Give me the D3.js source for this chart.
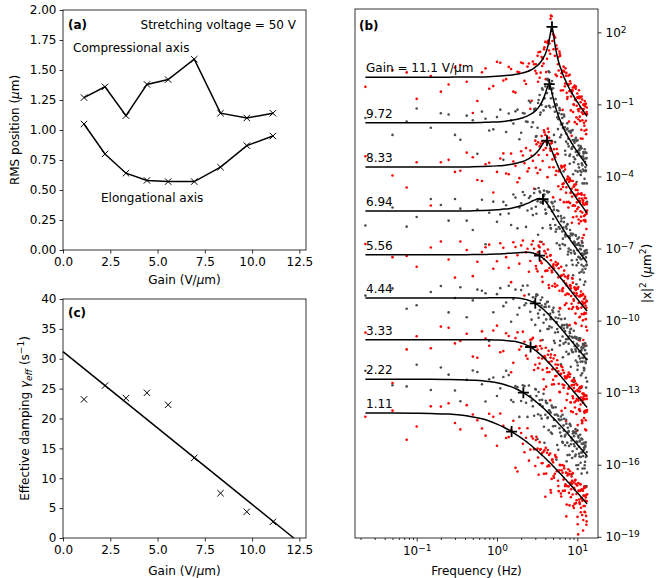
<!DOCTYPE html>
<html>
<head>
<meta charset="utf-8">
<script src="https://cdn.jsdelivr.net/npm/d3@7"></script>
<style>
  body { margin: 0; background: #fff; }
  text { font-family: "DejaVu Sans", sans-serif; }
</style>
</head>
<body>
<div id="chart"></div>
<script>
// ---- data ----
var gains = [1.11, 2.22, 3.33, 4.44, 5.56, 6.94, 8.33, 9.72, 11.1];
var rmsCompressional = [1.27, 1.36, 1.12, 1.38, 1.42, 1.59, 1.14, 1.10, 1.14];
var rmsElongational = [1.05, 0.80, 0.64, 0.58, 0.57, 0.57, 0.69, 0.87, 0.95];
var damping = [23.2, 25.5, 23.4, 24.3, 22.3, 13.4, 7.5, 4.4, 2.7];
var dampingFit = [[0, 31.2], [12.2, 0]];

var gainTicks = [0, 2.5, 5, 7.5, 10, 12.5];
var rmsTicks = [0, 0.25, 0.5, 0.75, 1, 1.25, 1.5, 1.75, 2];
var dampingTicks = [0, 5, 10, 15, 20, 25, 30, 35, 40];
var freqTicks = [0.1, 1, 10];
var psdTicks = [1e2, 1e-1, 1e-4, 1e-7, 1e-10, 1e-13, 1e-16, 1e-19];

// spectra, top (11.1 V/um) to bottom (1.11 V/um)
var gainLabels = ["Gain = 11.1 V/\u03bcm", "9.72", "8.33", "6.94", "5.56", "4.44", "3.33", "2.22", "1.11"];
var freqs = [0.023, 0.05, 0.1, 0.15, 0.25, 0.35, 0.5, 0.65, 0.8, 1.0, 1.2, 1.4, 1.6, 1.8, 2.0, 2.2, 2.4, 2.6, 2.8, 3.0,
    3.2, 3.4, 3.6, 3.8, 4.0, 4.2, 4.4, 4.6, 4.8, 5.0, 5.25, 5.5, 5.75, 6.0, 6.25, 6.5, 6.75, 7.0, 7.25, 7.5,
    7.75, 8.0, 8.25, 8.5, 8.75, 9.0, 9.25, 9.5, 9.75, 10.0, 10.25, 10.5, 10.75, 11.0, 11.25, 11.5, 11.75, 12.0, 12.25, 12.5,
    12.75, 13.0, 13.25];
var freqs2 = [0.075, 0.2, 0.3, 0.42, 0.57, 0.72, 0.9, 1.1, 1.3, 1.5, 1.7, 1.9, 2.1, 2.3, 2.5, 2.7, 2.9, 3.1, 3.3, 3.5,
    3.7, 3.9, 4.1, 4.3, 4.5, 4.7, 4.9, 5.125, 5.375, 5.625, 5.875, 6.125, 6.375, 6.625, 6.875, 7.125, 7.375, 7.625, 7.875, 8.125,
    8.375, 8.625, 8.875, 9.125, 9.375, 9.625, 9.875, 10.125, 10.375, 10.625, 10.875, 11.125, 11.375, 11.625, 11.875, 12.125, 12.375, 12.625, 12.875, 13.125];
var freqs3 = [3.05, 3.25, 3.45, 3.65, 3.85, 4.05, 4.25, 4.45, 4.65, 4.85, 5.06, 5.31, 5.56, 5.81, 6.06, 6.31, 6.56, 6.81, 7.06, 7.31,
    7.56, 7.81, 8.06, 8.31, 8.56, 8.81, 9.06, 9.31, 9.56, 9.81, 10.06, 10.31, 10.56, 10.81, 11.06, 11.31, 11.56, 11.81, 12.06, 12.31,
    12.56, 12.81, 13.06];

// log10 of the fitted |x|^2 at freqs
var fitLog = [
  [0.13,0.13,0.13,0.13,0.13,0.14,0.14,0.14,0.15,0.17,0.19,0.21,0.23,0.26,0.29,0.33,0.37,0.42,0.48,0.55,0.62,0.71,0.82,0.95,1.10,1.30,1.56,1.91,2.22,2.02,1.52,1.15,0.87,0.65,0.48,0.31,0.17,0.05,-0.06,-0.17,-0.26,-0.35,-0.43,-0.51,-0.58,-0.65,-0.72,-0.78,-0.84,-0.90,-0.95,-1.01,-1.06,-1.11,-1.16,-1.20,-1.25,-1.29,-1.34,-1.38,-1.42,-1.46,-1.50],
  [-1.77,-1.77,-1.77,-1.77,-1.77,-1.77,-1.76,-1.75,-1.74,-1.73,-1.71,-1.68,-1.65,-1.62,-1.58,-1.53,-1.48,-1.42,-1.35,-1.27,-1.17,-1.06,-0.92,-0.75,-0.55,-0.33,-0.17,-0.23,-0.47,-0.73,-1.01,-1.24,-1.43,-1.60,-1.74,-1.87,-1.99,-2.10,-2.20,-2.29,-2.38,-2.45,-2.53,-2.61,-2.67,-2.74,-2.80,-2.86,-2.92,-2.97,-3.03,-3.08,-3.13,-3.18,-3.22,-3.27,-3.31,-3.35,-3.39,-3.44,-3.48,-3.52,-3.56],
  [-3.61,-3.61,-3.61,-3.61,-3.61,-3.61,-3.60,-3.59,-3.58,-3.56,-3.54,-3.51,-3.48,-3.44,-3.40,-3.35,-3.29,-3.22,-3.15,-3.06,-2.96,-2.85,-2.72,-2.60,-2.52,-2.51,-2.60,-2.74,-2.91,-3.07,-3.26,-3.42,-3.57,-3.71,-3.83,-3.94,-4.04,-4.14,-4.23,-4.31,-4.39,-4.47,-4.54,-4.61,-4.67,-4.73,-4.79,-4.85,-4.90,-4.96,-5.01,-5.06,-5.11,-5.15,-5.20,-5.24,-5.28,-5.33,-5.37,-5.41,-5.45,-5.49,-5.52],
  [-5.44,-5.44,-5.44,-5.44,-5.44,-5.44,-5.43,-5.42,-5.41,-5.39,-5.36,-5.34,-5.30,-5.26,-5.22,-5.17,-5.12,-5.07,-5.01,-4.97,-4.93,-4.92,-4.93,-4.97,-5.03,-5.12,-5.22,-5.32,-5.42,-5.52,-5.64,-5.75,-5.86,-5.96,-6.05,-6.14,-6.23,-6.31,-6.39,-6.46,-6.53,-6.59,-6.66,-6.72,-6.78,-6.83,-6.89,-6.94,-6.99,-7.04,-7.09,-7.14,-7.18,-7.23,-7.27,-7.31,-7.35,-7.39,-7.43,-7.47,-7.51,-7.55,-7.58],
  [-7.26,-7.26,-7.26,-7.26,-7.26,-7.26,-7.25,-7.25,-7.24,-7.23,-7.22,-7.20,-7.19,-7.18,-7.17,-7.16,-7.16,-7.17,-7.19,-7.22,-7.25,-7.30,-7.36,-7.42,-7.49,-7.55,-7.62,-7.70,-7.77,-7.84,-7.92,-8.00,-8.08,-8.16,-8.24,-8.31,-8.38,-8.45,-8.51,-8.57,-8.63,-8.69,-8.75,-8.80,-8.86,-8.91,-8.96,-9.01,-9.05,-9.10,-9.14,-9.19,-9.23,-9.27,-9.31,-9.35,-9.39,-9.43,-9.46,-9.50,-9.54,-9.57,-9.61],
  [-9.06,-9.06,-9.06,-9.06,-9.06,-9.06,-9.06,-9.06,-9.05,-9.05,-9.05,-9.05,-9.05,-9.06,-9.08,-9.11,-9.14,-9.18,-9.23,-9.28,-9.34,-9.41,-9.47,-9.54,-9.61,-9.68,-9.75,-9.82,-9.89,-9.95,-10.03,-10.11,-10.18,-10.26,-10.32,-10.39,-10.46,-10.52,-10.58,-10.64,-10.70,-10.75,-10.81,-10.86,-10.91,-10.96,-11.01,-11.05,-11.10,-11.14,-11.19,-11.23,-11.27,-11.31,-11.35,-11.39,-11.42,-11.46,-11.50,-11.53,-11.57,-11.60,-11.64],
  [-10.80,-10.80,-10.80,-10.80,-10.80,-10.80,-10.80,-10.80,-10.80,-10.81,-10.82,-10.84,-10.86,-10.89,-10.93,-10.98,-11.04,-11.10,-11.17,-11.24,-11.31,-11.39,-11.46,-11.54,-11.61,-11.68,-11.76,-11.82,-11.89,-11.96,-12.04,-12.11,-12.19,-12.26,-12.32,-12.39,-12.45,-12.52,-12.58,-12.64,-12.69,-12.75,-12.80,-12.85,-12.90,-12.95,-13.00,-13.04,-13.09,-13.13,-13.17,-13.21,-13.25,-13.29,-13.33,-13.37,-13.41,-13.44,-13.48,-13.52,-13.55,-13.59,-13.62],
  [-12.44,-12.44,-12.44,-12.44,-12.45,-12.46,-12.48,-12.50,-12.54,-12.59,-12.65,-12.72,-12.79,-12.87,-12.95,-13.03,-13.11,-13.19,-13.27,-13.35,-13.43,-13.51,-13.58,-13.65,-13.72,-13.79,-13.86,-13.92,-13.99,-14.05,-14.12,-14.19,-14.26,-14.33,-14.39,-14.45,-14.51,-14.57,-14.63,-14.68,-14.74,-14.79,-14.84,-14.89,-14.94,-14.98,-15.03,-15.07,-15.12,-15.16,-15.20,-15.24,-15.28,-15.32,-15.36,-15.39,-15.43,-15.47,-15.50,-15.53,-15.57,-15.60,-15.63],
  [-13.85,-13.85,-13.86,-13.87,-13.89,-13.93,-14.01,-14.09,-14.18,-14.31,-14.43,-14.55,-14.67,-14.78,-14.88,-14.98,-15.08,-15.17,-15.26,-15.35,-15.43,-15.51,-15.59,-15.66,-15.73,-15.80,-15.87,-15.93,-15.99,-16.05,-16.13,-16.20,-16.27,-16.33,-16.40,-16.46,-16.52,-16.58,-16.63,-16.69,-16.74,-16.79,-16.84,-16.89,-16.94,-16.99,-17.03,-17.08,-17.12,-17.16,-17.20,-17.24,-17.28,-17.32,-17.36,-17.39,-17.43,-17.47,-17.50,-17.53,-17.56,-17.60,-17.63]
];

// log10 of the measured |x|^2 at freqs
var psdLog = [
  [-0.27,0.43,-0.77,0.18,-0.17,0.64,-1.36,0.34,-0.35,0.77,-0.01,0.56,-0.47,0.36,0.74,-0.02,0.57,-1.18,0.78,0.40,1.02,0.11,0.97,0.70,1.60,0.90,1.66,1.11,2.67,1.92,1.02,1.45,0.67,1.20,-0.42,0.41,0.57,-0.25,0.19,-0.77,0.19,-0.45,-0.13,-2.31,-0.43,-1.00,-0.22,-0.83,-1.54,-0.55,-1.20,-0.41,-1.51,-0.91,-2.06,-0.80,-1.40,-1.19,-1.89,-1.08,-0.97,-2.06,-1.40],
  [-1.57,-2.27,-1.17,-1.97,-1.42,-2.47,-1.66,-1.30,-2.09,-1.53,-3.31,-1.38,-1.80,-1.22,-2.18,-1.38,-1.73,-0.92,-1.75,-1.17,-1.97,-0.61,-1.02,-1.25,-0.25,-0.53,0.38,-1.13,-0.37,-0.33,-1.31,-0.99,-2.03,-1.15,-1.84,-1.57,-3.79,-1.95,-2.55,-1.79,-2.43,-3.15,-2.18,-2.86,-2.07,-3.19,-2.60,-3.76,-2.52,-3.12,-2.93,-3.63,-2.83,-2.73,-3.82,-3.17,-3.71,-3.05,-4.29,-3.39,-3.78,-3.02,-5.06],
  [-3.16,-3.96,-3.41,-5.21,-3.31,-3.76,-3.20,-4.19,-3.43,-3.81,-3.04,-3.91,-3.38,-4.24,-2.95,-3.45,-3.79,-2.92,-3.35,-2.51,-3.86,-2.75,-2.32,-2.90,-2.27,-3.11,-2.15,-2.84,-2.61,-4.87,-3.11,-3.77,-3.07,-3.76,-4.53,-3.59,-4.29,-3.54,-4.68,-4.11,-5.29,-4.07,-4.69,-4.51,-5.22,-4.43,-4.34,-5.45,-4.80,-5.36,-4.71,-5.96,-5.06,-5.45,-4.70,-6.74,-5.08,-5.83,-4.77,-5.61,-5.10,-6.19,-5.42],
  [-6.04,-5.29,-5.69,-4.94,-5.84,-5.34,-6.23,-4.97,-5.51,-5.89,-5.06,-5.54,-4.75,-6.16,-5.12,-4.77,-5.42,-4.82,-5.61,-4.52,-5.03,-4.62,-6.73,-4.82,-5.38,-4.62,-5.27,-6.02,-5.07,-5.77,-5.04,-6.20,-5.66,-6.86,-5.65,-6.29,-6.13,-6.86,-6.09,-6.01,-7.13,-6.49,-7.06,-6.42,-7.68,-6.78,-7.19,-6.44,-8.49,-6.84,-7.59,-6.54,-7.38,-6.88,-7.97,-7.21,-6.90,-7.74,-7.23,-9.07,-7.21,-7.70,-7.18],
  [-6.81,-7.36,-7.76,-6.96,-7.46,-6.71,-8.15,-7.15,-6.84,-7.53,-6.97,-7.80,-6.74,-7.28,-6.87,-8.96,-7.01,-7.52,-6.69,-7.27,-7.95,-6.95,-7.61,-6.82,-7.94,-7.35,-8.52,-7.30,-7.92,-7.74,-8.47,-7.70,-7.63,-8.76,-8.14,-8.71,-8.08,-9.35,-8.46,-8.87,-8.13,-10.19,-8.55,-9.30,-8.26,-9.11,-8.61,-9.71,-8.95,-8.65,-9.49,-8.99,-10.83,-8.97,-9.46,-8.95,-9.99,-9.28,-9.71,-9.00,-9.94,-9.47,-10.41],
  [-8.96,-8.66,-9.36,-8.81,-9.66,-8.61,-9.16,-8.76,-10.85,-8.90,-9.40,-8.55,-9.10,-9.76,-8.73,-9.36,-8.54,-9.63,-9.03,-10.18,-8.94,-9.56,-9.37,-10.09,-9.31,-9.23,-10.35,-9.72,-10.29,-9.65,-10.93,-10.06,-10.48,-9.76,-11.82,-10.19,-10.96,-9.92,-10.78,-10.29,-11.40,-10.65,-10.36,-11.21,-10.71,-12.56,-10.71,-11.20,-10.70,-11.74,-11.04,-11.48,-10.77,-11.71,-11.25,-12.19,-10.97,-11.56,-12.00,-11.23,-11.77,-11.05,-12.54],
  [-10.50,-12.60,-10.65,-11.15,-10.30,-10.85,-11.50,-10.45,-11.05,-10.21,-11.27,-10.64,-11.76,-10.49,-11.08,-10.88,-11.59,-10.80,-10.72,-11.84,-11.21,-11.79,-11.16,-12.44,-11.56,-11.98,-11.26,-13.32,-11.69,-12.46,-11.44,-12.31,-11.84,-12.96,-12.22,-11.94,-12.80,-12.32,-14.18,-12.34,-12.84,-12.35,-13.40,-12.70,-13.15,-12.45,-13.40,-12.94,-13.89,-12.68,-13.27,-13.71,-12.95,-13.49,-12.78,-14.27,-13.31,-13.04,-13.78,-13.27,-14.15,-13.14,-13.72],
  [-12.09,-12.69,-11.84,-12.89,-12.25,-13.36,-12.08,-12.65,-12.44,-13.14,-12.35,-12.27,-13.39,-12.77,-13.35,-12.73,-14.01,-13.14,-13.57,-12.85,-14.93,-13.31,-14.08,-13.05,-13.92,-13.44,-14.56,-13.82,-13.54,-14.40,-13.92,-15.79,-13.96,-14.48,-13.99,-15.05,-14.36,-14.82,-14.13,-15.08,-14.64,-15.59,-14.39,-14.99,-15.44,-14.68,-15.23,-14.52,-16.02,-15.06,-14.80,-15.54,-15.03,-15.92,-14.91,-15.49,-15.13,-17.27,-15.35,-15.88,-15.07,-15.65,-16.33],
  [-14.00,-13.75,-14.41,-13.57,-13.44,-14.53,-13.91,-14.49,-13.88,-15.21,-14.38,-14.85,-14.17,-16.28,-14.68,-15.48,-14.48,-15.37,-14.91,-16.05,-15.33,-15.06,-15.94,-15.46,-17.33,-15.50,-16.02,-15.53,-16.59,-15.90,-16.38,-15.70,-16.67,-16.23,-17.20,-16.01,-16.62,-17.08,-16.33,-16.89,-16.19,-17.69,-16.74,-16.49,-17.24,-16.74,-17.63,-16.63,-17.22,-16.86,-18.90,-17.09,-17.63,-16.82,-17.41,-18.09,-17.08,-17.72,-16.90,-17.98,-17.36,-18.50,-17.23]
];

// log10 of the measured |x|^2 at freqs2
var psdLog2 = [
  [0.33,-0.47,0.53,-0.06,-0.86,0.50,-0.24,0.73,0.05,0.47,-0.51,0.33,0.71,-0.15,0.70,-0.85,0.67,0.29,1.17,0.32,0.89,1.38,0.35,1.63,1.53,2.70,1.64,1.87,0.24,1.31,0.41,1.02,0.30,-0.41,0.36,0.50,-0.52,-0.17,-1.71,-0.04,-0.67,-0.40,-1.32,-0.29,-0.80,-0.26,-1.82,-0.73,-1.28,-0.74,-1.69,-0.69,-1.33,-2.43,-1.02,-1.77,-0.86,-1.40,-2.24,-1.13],
  [-1.72,-1.37,-2.27,-1.47,-3.06,-1.60,-2.04,-1.22,-2.15,-1.67,-1.29,-2.45,-1.36,-1.71,-0.85,-1.94,-1.21,-2.32,-0.82,-1.34,-0.39,-0.75,-1.09,0.00,0.34,-0.75,-0.55,-2.27,-0.78,-1.54,-1.37,-2.37,-1.41,-1.98,-1.50,-3.10,-2.05,-2.64,-2.12,-3.09,-2.12,-2.79,-3.91,-2.52,-3.28,-2.39,-2.95,-3.80,-2.71,-2.91,-3.76,-2.80,-3.45,-4.29,-2.98,-3.77,-2.87,-3.61,-3.25,-4.29],
  [-4.46,-3.41,-3.81,-3.01,-4.15,-3.49,-4.67,-3.25,-3.88,-3.05,-3.56,-4.07,-3.13,-2.82,-3.66,-3.14,-4.51,-2.66,-3.11,-2.64,-3.36,-2.16,-2.57,-2.01,-3.62,-2.63,-3.29,-2.87,-3.94,-3.05,-3.79,-4.97,-3.64,-4.44,-3.59,-4.19,-5.07,-4.00,-4.23,-5.11,-4.18,-4.84,-5.70,-4.41,-5.22,-4.33,-5.08,-4.74,-5.79,-5.04,-4.73,-5.68,-4.92,-6.56,-5.16,-5.65,-4.89,-5.88,-5.47,-5.16],
  [-6.09,-5.19,-4.94,-5.84,-5.38,-6.82,-5.05,-5.58,-5.20,-6.02,-4.88,-5.29,-4.65,-6.10,-4.90,-5.34,-4.69,-5.55,-4.48,-5.08,-6.15,-4.75,-5.53,-4.67,-5.27,-6.17,-5.12,-5.38,-6.30,-5.41,-6.11,-7.01,-5.75,-6.59,-5.72,-6.50,-6.18,-7.25,-6.51,-6.23,-7.19,-6.45,-8.11,-6.71,-7.22,-6.47,-7.47,-7.07,-6.77,-8.01,-7.01,-7.45,-6.69,-7.88,-7.27,-8.51,-7.15,-7.84,-7.08,-7.67],
  [-7.31,-6.71,-8.21,-7.06,-7.55,-6.95,-7.84,-6.78,-7.36,-8.40,-6.94,-7.63,-6.67,-7.16,-7.97,-6.83,-7.01,-7.84,-6.88,-7.53,-8.39,-7.11,-7.92,-7.04,-7.81,-7.49,-8.56,-7.83,-7.56,-8.54,-7.82,-9.50,-8.13,-8.65,-7.92,-8.93,-8.54,-8.25,-9.51,-8.52,-8.98,-8.23,-9.44,-8.84,-10.09,-8.73,-9.43,-8.67,-9.27,-9.86,-9.00,-8.79,-9.73,-9.32,-10.81,-9.10,-9.68,-9.37,-10.26,-9.19],
  [-9.51,-8.56,-9.06,-9.86,-8.71,-8.86,-9.65,-8.65,-9.25,-10.05,-8.71,-9.47,-8.55,-9.28,-8.91,-9.96,-9.21,-8.91,-9.88,-9.14,-10.81,-9.43,-9.95,-9.22,-10.24,-9.86,-9.57,-10.84,-9.87,-10.35,-9.62,-10.84,-10.26,-11.53,-10.19,-10.90,-10.16,-10.77,-11.38,-10.53,-10.34,-11.29,-10.89,-12.39,-10.68,-11.28,-10.97,-11.87,-10.81,-11.30,-10.74,-12.28,-11.17,-11.71,-11.14,-12.08,-11.07,-11.70,-12.79,-11.37],
  [-11.20,-10.25,-10.95,-10.55,-11.55,-10.75,-10.41,-11.32,-10.53,-12.15,-10.73,-11.21,-10.46,-11.46,-11.07,-10.79,-12.06,-11.08,-11.55,-10.83,-12.05,-11.48,-12.75,-11.42,-12.14,-11.41,-12.03,-12.65,-11.83,-11.65,-12.63,-12.24,-13.76,-12.07,-12.69,-12.40,-13.31,-12.27,-12.77,-12.23,-13.78,-12.68,-13.23,-12.68,-13.62,-12.62,-13.26,-14.35,-12.94,-13.68,-12.77,-13.31,-14.15,-13.04,-13.23,-14.06,-13.10,-13.74,-14.57,-13.26],
  [-12.74,-11.95,-12.91,-12.47,-12.14,-13.37,-12.37,-12.82,-12.09,-13.31,-12.73,-14.01,-12.69,-13.42,-12.70,-13.33,-13.96,-13.14,-12.97,-13.95,-13.57,-15.09,-13.41,-14.03,-13.74,-14.66,-13.62,-14.14,-13.61,-15.18,-14.10,-14.66,-14.12,-15.08,-14.09,-14.75,-15.86,-14.46,-15.22,-14.32,-14.87,-15.72,-14.61,-14.81,-15.65,-14.70,-15.34,-16.18,-14.87,-15.66,-14.75,-15.49,-15.13,-16.16,-15.40,-15.09,-16.02,-15.25,-16.89,-15.47],
  [-14.96,-13.58,-14.26,-13.52,-14.15,-14.79,-14.00,-13.87,-14.89,-14.56,-16.13,-14.48,-15.13,-14.88,-15.83,-14.82,-15.36,-14.84,-16.42,-15.35,-15.93,-15.40,-16.37,-15.39,-16.05,-17.16,-15.77,-16.54,-15.67,-16.24,-17.10,-16.02,-16.23,-17.09,-16.15,-16.81,-17.66,-16.37,-17.17,-16.27,-17.02,-16.67,-17.72,-16.96,-16.66,-17.60,-16.84,-18.48,-17.07,-17.56,-16.80,-17.79,-17.38,-17.06,-18.30,-17.29,-17.72,-16.95,-18.13,-17.52]
];

// log10 of the measured |x|^2 at freqs3
var psdLog3 = [
  [0.67,-0.06,1.19,0.60,1.29,0.05,1.57,1.24,2.56,2.18,1.29,1.78,0.18,0.97,1.11,0.14,-1.23,0.39,-0.13,0.31,-0.69,-0.18,0.23,-1.25,-0.53,-0.30,-1.02,-1.74,-0.35,-1.06,-0.71,-1.62,-0.67,-1.17,-2.42,-0.67,-1.66,-1.21,-1.00,-2.10,-0.99,-1.68,-1.32],
  [-2.35,-0.94,-1.43,-0.33,-0.75,-1.10,0.06,-1.06,-0.13,-0.03,-1.10,-2.57,-1.04,-1.62,-1.24,-2.27,-1.80,-1.42,-2.93,-2.22,-2.01,-2.75,-3.47,-2.10,-2.83,-2.49,-3.41,-2.47,-2.98,-4.23,-2.49,-3.49,-3.04,-2.84,-3.94,-2.83,-3.53,-3.17,-3.26,-4.10,-3.00,-3.74,-3.23],
  [-3.64,-2.58,-3.72,-2.54,-2.08,-2.82,-4.03,-2.39,-2.93,-2.55,-3.62,-3.20,-2.86,-4.41,-3.74,-3.56,-4.32,-5.07,-3.71,-4.45,-4.13,-5.06,-4.14,-4.66,-5.93,-4.19,-5.20,-4.76,-4.56,-5.67,-4.57,-5.28,-4.92,-5.02,-5.86,-4.76,-5.50,-4.99,-6.44,-5.18,-5.82,-4.91,-5.55],
  [-5.26,-6.43,-4.67,-5.09,-4.59,-5.55,-5.05,-4.65,-6.15,-5.45,-5.25,-6.02,-6.78,-5.44,-6.18,-5.87,-6.81,-5.90,-6.43,-7.71,-5.98,-7.00,-6.56,-6.38,-7.49,-6.39,-7.10,-6.75,-6.85,-7.70,-6.60,-7.35,-6.85,-8.29,-7.04,-7.68,-6.77,-7.41,-8.00,-7.09,-8.38,-7.37,-7.06],
  [-7.73,-7.16,-6.72,-8.18,-7.44,-7.21,-7.92,-8.64,-7.27,-7.99,-7.66,-8.59,-7.67,-8.20,-9.48,-7.76,-8.78,-8.35,-8.17,-9.28,-8.19,-8.90,-8.56,-8.66,-9.52,-8.42,-9.17,-8.67,-10.12,-8.86,-9.51,-8.60,-9.25,-9.84,-8.93,-10.22,-9.21,-8.90,-9.74,-10.97,-9.26,-9.70,-9.18],
  [-9.00,-9.71,-10.43,-9.04,-9.76,-9.43,-10.35,-9.42,-9.94,-11.21,-9.47,-10.50,-10.08,-9.90,-11.03,-9.94,-10.66,-10.33,-10.44,-11.30,-10.21,-10.96,-10.47,-11.92,-10.67,-11.32,-10.42,-11.07,-11.66,-10.76,-12.05,-11.05,-10.74,-11.58,-12.82,-11.11,-11.55,-11.03,-11.97,-11.41,-10.94,-12.38,-11.61],
  [-11.06,-11.98,-11.06,-11.58,-12.86,-11.13,-12.15,-11.73,-11.54,-12.66,-11.58,-12.31,-11.98,-12.11,-12.98,-11.89,-12.66,-12.17,-13.64,-12.40,-13.05,-12.16,-12.81,-13.41,-12.51,-13.81,-12.81,-12.51,-13.35,-14.60,-12.89,-13.33,-12.82,-13.76,-13.20,-12.74,-14.18,-13.42,-13.15,-13.84,-14.53,-13.11,-13.80],
  [-12.87,-13.90,-13.48,-13.30,-14.42,-13.34,-14.06,-13.73,-13.84,-14.71,-13.62,-14.39,-13.91,-15.38,-14.15,-14.81,-13.92,-14.58,-15.19,-14.29,-15.60,-14.60,-14.30,-15.15,-16.40,-14.70,-15.14,-14.64,-15.58,-15.03,-14.57,-16.01,-15.25,-14.99,-15.68,-16.37,-14.95,-15.64,-15.28,-16.16,-15.19,-15.68,-16.91],
  [-14.97,-15.70,-15.38,-15.51,-16.38,-15.30,-16.07,-15.59,-17.05,-15.81,-16.47,-15.60,-16.27,-16.89,-16.00,-17.32,-16.33,-16.04,-16.89,-18.15,-16.45,-16.90,-16.40,-17.35,-16.80,-16.35,-17.80,-17.04,-16.79,-17.48,-18.17,-16.76,-17.45,-17.09,-17.98,-17.02,-17.50,-18.74,-16.98,-17.96,-17.49,-17.27,-18.36]
];

var peakFreq = [4.84, 4.48, 4.2, 3.74, 3.39, 3.0, 2.62, 2.13, 1.52];
var peakLog = [2.23, -0.16, -2.51, -4.95, -7.30, -9.28, -11.10, -13.00, -14.62];

(function(){

    var width = 658;
    var height = 578;
    var fontSize = 12;
    var svg = d3.select("#chart").append("svg")
        .attr("width", width)
        .attr("height", height);

    // panel boxes
    var boxA = {left: 63, right: 306, top: 10, bottom: 250};
    var boxC = {left: 63, right: 306, top: 299, bottom: 538};
    var boxB = {left: 355, right: 598, top: 9, bottom: 538};

    var xA = d3.scaleLinear().domain([0, 12.85]).range([boxA.left, boxA.right]);
    var yA = d3.scaleLinear().domain([0, 2]).range([boxA.bottom, boxA.top]);
    var xC = d3.scaleLinear().domain([0, 12.85]).range([boxC.left, boxC.right]);
    var yC = d3.scaleLinear().domain([0, 40]).range([boxC.bottom, boxC.top]);
    var xB = d3.scaleLog().domain([Math.pow(10, -1.768), Math.pow(10, 1.258)]).range([boxB.left, boxB.right]);
    var yB = d3.scaleLog().domain([Math.pow(10, -19.05), Math.pow(10, 2.97)]).range([boxB.bottom, boxB.top]);

    function styleAxis(g){
        g.select(".domain").remove();
        g.selectAll(".tick line").attr("stroke", "#000").attr("stroke-width", 0.8);
        g.selectAll(".tick text").attr("fill", "#000").attr("font-size", fontSize)
            .attr("font-family", "DejaVu Sans, sans-serif");
    }

    function frame(box){
        svg.append("rect")
            .attr("x", box.left).attr("y", box.top)
            .attr("width", box.right - box.left).attr("height", box.bottom - box.top)
            .attr("fill", "none").attr("stroke", "#000").attr("stroke-width", 0.8);
    }

    function powerLabel(d){
        var e = Math.round(Math.log10(d));
        var t = d3.select(this).text("10");
        t.append("tspan").attr("dy", "-0.45em").attr("font-size", 9)
            .text(e < 0 ? "\u2212" + (-e) : String(e));
    }

    function xMarker(g, x, y, r){
        g.append("path")
            .attr("d", "M" + (x - r) + "," + (y - r) + "L" + (x + r) + "," + (y + r) +
                       "M" + (x - r) + "," + (y + r) + "L" + (x + r) + "," + (y - r))
            .attr("stroke", "#000").attr("stroke-width", 1).attr("fill", "none");
    }

    // ---------- panel (a) ----------
    svg.append("g").attr("transform", "translate(0," + boxA.bottom + ")")
        .call(d3.axisBottom(xA).tickValues(gainTicks).tickFormat(d3.format(".1f")).tickSize(3.5).tickPadding(3.5))
        .call(styleAxis);
    svg.append("g").attr("transform", "translate(" + boxA.left + ",0)")
        .call(d3.axisLeft(yA).tickValues(rmsTicks).tickFormat(d3.format(".2f")).tickSize(3.5).tickPadding(3))
        .call(styleAxis);

    var lineA = d3.line().x(function(d){ return xA(d[0]); }).y(function(d){ return yA(d[1]); });
    var gA = svg.append("g");
    [rmsCompressional, rmsElongational].forEach(function(series){
        var pts = gains.map(function(g, i){ return [g, series[i]]; });
        gA.append("path").attr("d", lineA(pts))
            .attr("fill", "none").attr("stroke", "#000").attr("stroke-width", 1.5);
        pts.forEach(function(p){ xMarker(gA, xA(p[0]), yA(p[1]), 3.2); });
    });
    frame(boxA);

    svg.append("text").attr("x", 68).attr("y", 29).attr("font-size", fontSize)
        .attr("font-weight", "bold").text("(a)");
    svg.append("text").attr("x", 296).attr("y", 29).attr("font-size", fontSize)
        .attr("text-anchor", "end").text("Stretching voltage = 50 V");
    svg.append("text").attr("x", 73).attr("y", 52).attr("font-size", fontSize).text("Compressional axis");
    svg.append("text").attr("x", 101).attr("y", 202).attr("font-size", fontSize).text("Elongational axis");

    var labA = svg.append("text").attr("font-size", fontSize).attr("text-anchor", "middle")
        .attr("transform", "translate(19," + ((boxA.top + boxA.bottom) / 2) + ") rotate(-90)");
    labA.append("tspan").text("RMS position (");
    labA.append("tspan").attr("font-style", "italic").text("\u03bc");
    labA.append("tspan").text("m)");

    function gainLabel(y){
        var t = svg.append("text").attr("x", (boxA.left + boxA.right) / 2).attr("y", y)
            .attr("font-size", fontSize).attr("text-anchor", "middle");
        t.append("tspan").text("Gain (V/");
        t.append("tspan").attr("font-style", "italic").text("\u03bc");
        t.append("tspan").text("m)");
    }
    gainLabel(284);

    // ---------- panel (c) ----------
    svg.append("g").attr("transform", "translate(0," + boxC.bottom + ")")
        .call(d3.axisBottom(xC).tickValues(gainTicks).tickFormat(d3.format(".1f")).tickSize(3.5).tickPadding(3.5))
        .call(styleAxis);
    svg.append("g").attr("transform", "translate(" + boxC.left + ",0)")
        .call(d3.axisLeft(yC).tickValues(dampingTicks).tickFormat(d3.format("d")).tickSize(3.5).tickPadding(3))
        .call(styleAxis);

    var gC = svg.append("g");
    gC.append("line")
        .attr("x1", xC(dampingFit[0][0])).attr("y1", yC(dampingFit[0][1]))
        .attr("x2", xC(dampingFit[1][0])).attr("y2", yC(dampingFit[1][1]))
        .attr("stroke", "#000").attr("stroke-width", 1.5);
    gains.forEach(function(g, i){ xMarker(gC, xC(g), yC(damping[i]), 3.2); });
    frame(boxC);

    svg.append("text").attr("x", 68).attr("y", 317).attr("font-size", fontSize)
        .attr("font-weight", "bold").text("(c)");

    var labC = svg.append("text").attr("font-size", fontSize).attr("text-anchor", "middle")
        .attr("transform", "translate(29," + ((boxC.top + boxC.bottom) / 2) + ") rotate(-90)");
    labC.append("tspan").text("Effective damping ");
    labC.append("tspan").attr("font-style", "italic").text("\u03b3");
    labC.append("tspan").attr("font-style", "italic").attr("font-size", 9).attr("dy", 3).text("eff");
    labC.append("tspan").attr("dy", -3).text(" (s");
    labC.append("tspan").attr("font-size", 9).attr("dy", -5).text("\u22121");
    labC.append("tspan").attr("dy", 5).text(")");
    gainLabel(575);

    // ---------- panel (b) ----------
    var minorTicks = [];
    [0.01, 0.1, 1, 10].forEach(function(dec){
        for (var k = 2; k <= 9; k++){
            var v = dec * k;
            if (v > xB.domain()[0] && v < xB.domain()[1]) minorTicks.push(v);
        }
    });
    svg.append("g").attr("transform", "translate(0," + boxB.bottom + ")")
        .call(d3.axisBottom(xB).tickValues(minorTicks).tickFormat("").tickSize(2))
        .call(styleAxis);
    var xAxisB = svg.append("g").attr("transform", "translate(0," + boxB.bottom + ")")
        .call(d3.axisBottom(xB).tickValues(freqTicks).tickFormat("").tickSize(3.5).tickPadding(5))
        .call(styleAxis);
    xAxisB.selectAll(".tick text").each(powerLabel);

    var yAxisB = svg.append("g").attr("transform", "translate(" + boxB.right + ",0)")
        .call(d3.axisRight(yB).tickValues(psdTicks).tickFormat("").tickSize(3.5).tickPadding(4))
        .call(styleAxis);
    yAxisB.selectAll(".tick text").each(powerLabel);

    svg.append("clipPath").attr("id", "clipB").append("rect")
        .attr("x", boxB.left).attr("y", boxB.top)
        .attr("width", boxB.right - boxB.left).attr("height", boxB.bottom - boxB.top);
    var gB = svg.append("g").attr("clip-path", "url(#clipB)");

    // measured spectra
    function drawDots(series, f, color){
        gB.append("g").selectAll("circle")
            .data(series).enter().append("circle")
            .attr("cx", function(d, i){ return xB(f[i]); })
            .attr("cy", function(d){ return yB(Math.pow(10, d)); })
            .attr("r", 1.3)
            .attr("fill", color);
    }
    psdLog.forEach(function(series, s){
        var color = s % 2 === 0 ? "#ff0000" : "#4d4d4d";
        drawDots(series, freqs, color);
        drawDots(psdLog2[s], freqs2, color);
        drawDots(psdLog3[s], freqs3, color);
    });

    // fitted spectra
    var lineB = d3.line()
        .x(function(d, i){ return xB(freqs[i]); })
        .y(function(d){ return yB(Math.pow(10, d)); })
        .curve(d3.curveMonotoneX);
    fitLog.forEach(function(series){
        gB.append("path").attr("d", lineB(series))
            .attr("fill", "none").attr("stroke", "#000").attr("stroke-width", 1.5);
    });

    // resonance markers
    peakFreq.forEach(function(f, i){
        var x = xB(f), y = yB(Math.pow(10, peakLog[i])), r = 5.5;
        gB.append("path")
            .attr("d", "M" + (x - r) + "," + y + "L" + (x + r) + "," + y + "M" + x + "," + (y - r) + "L" + x + "," + (y + r))
            .attr("stroke", "#000").attr("stroke-width", 1.8);
    });

    // gain labels above each flat level
    gainLabels.forEach(function(lab, i){
        svg.append("text").attr("x", 366)
            .attr("y", yB(Math.pow(10, fitLog[i][0])) - 5)
            .attr("font-size", fontSize).text(lab);
    });
    frame(boxB);

    svg.append("text").attr("x", 359).attr("y", 30).attr("font-size", fontSize)
        .attr("font-weight", "bold").text("(b)");
    svg.append("text").attr("x", (boxB.left + boxB.right) / 2).attr("y", 575)
        .attr("font-size", fontSize).attr("text-anchor", "middle").text("Frequency (Hz)");

    var labB = svg.append("text").attr("font-size", fontSize).attr("text-anchor", "middle")
        .attr("transform", "translate(651," + ((boxB.top + boxB.bottom) / 2) + ") rotate(-90)");
    labB.append("tspan").text("|x|");
    labB.append("tspan").attr("font-size", 9).attr("dy", -5).text("2");
    labB.append("tspan").attr("dy", 5).text(" (");
    labB.append("tspan").attr("font-style", "italic").text("\u03bc");
    labB.append("tspan").text("m");
    labB.append("tspan").attr("font-size", 9).attr("dy", -5).text("2");
    labB.append("tspan").attr("dy", 5).text(")");

})();
</script>
</body>
</html>
